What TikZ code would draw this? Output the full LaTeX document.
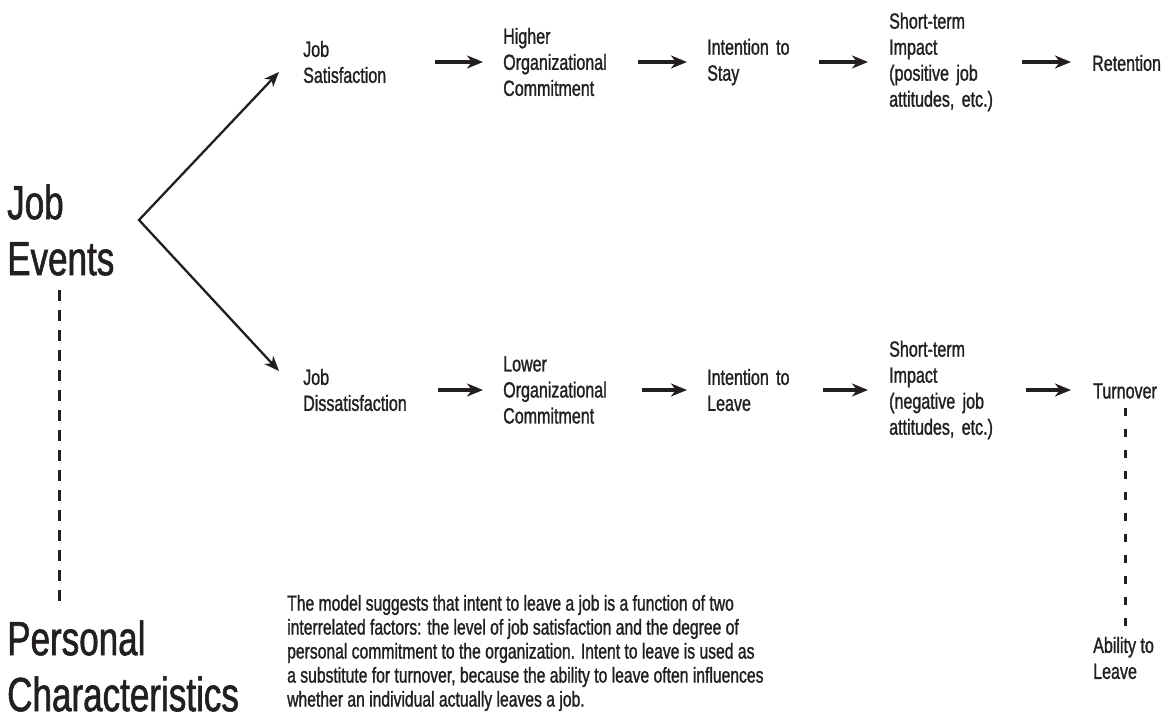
\documentclass[tikz,border=0pt]{standalone}
\usepackage{fontspec}
\setmainfont[FakeStretch=0.73,FakeBold=1.2]{Liberation Sans}
\usetikzlibrary{arrows.meta}
\definecolor{ink}{HTML}{231F20}
\begin{document}
\begin{tikzpicture}[x=1pt,y=-1pt,every node/.style={text=ink},
 lbl/.style={anchor=west,align=left,inner sep=0pt,font=\fontsize{22}{26}\selectfont},
 big/.style={anchor=west,align=left,inner sep=0pt,font=\fontsize{48}{56}\selectfont},
 arr/.style={draw=ink,line width=3.3pt,-{Stealth[length=16pt,width=13pt,inset=5pt]}},
 diag/.style={draw=ink,line width=2.3pt,{Stealth[length=15pt,width=12pt,inset=4.5pt]}-{Stealth[length=15pt,width=12pt,inset=4.5pt]}},
 dsh/.style={draw=ink,line width=3pt,dash pattern=on 11pt off 9pt}]
\useasboundingbox (0,0) rectangle (1168,720);
% big labels
\node[big] (je) at (7,230) {Job\\Events};
\node[big] (pc) at (7,666) {Personal\\Characteristics};
% row 1
\node[lbl,text width=132pt] (js) at (303,62) {Job\\Satisfaction};
\node[lbl,text width=135pt] (hoc) at (503,62) {Higher\\Organizational\\Commitment};
\node[lbl,text width=112pt] (its) at (707,62) {Intention to\\Stay};
\node[lbl,text width=133pt] (stp) at (889,62) {Short-term\\Impact\\(positive job\\attitudes, etc.)};
\node[lbl] (ret) at (1092,63) {Retention};
% row 2
\node[lbl,text width=135pt] (jd) at (303,390) {Job\\Dissatisfaction};
\node[lbl,text width=139pt] (loc) at (503,390) {Lower\\Organizational\\Commitment};
\node[lbl,text width=116pt] (itl) at (707,390) {Intention to\\Leave};
\node[lbl,text width=137pt] (stn) at (889,390) {Short-term\\Impact\\(negative job\\attitudes, etc.)};
\node[lbl] (turn) at (1093,391) {Turnover};
\node[lbl] (abl) at (1093,658) {Ability to\\Leave};
% paragraph
\node[anchor=west,align=left,inner sep=0pt,font=\fontsize{21.5}{24}\selectfont] (para) at (287,653)
 {The model suggests that intent to leave a job is a function of two\\
  interrelated factors: the level of job satisfaction and the degree of\\
  personal commitment to the organization. Intent to leave is used as\\
  a substitute for turnover, because the ability to leave often influences\\
  whether an individual actually leaves a job.};
% arrows row 1
\draw[arr,shorten >=20pt] (js.east) -- (js.east -| hoc.west);
\draw[arr,shorten >=20pt] (hoc.east) -- (hoc.east -| its.west);
\draw[arr,shorten >=21pt] (its.east) -- (its.east -| stp.west);
\draw[arr,shorten >=21pt] (stp.east) -- (stp.east -| ret.west);
% arrows row 2
\draw[arr,shorten >=20pt] (jd.east) -- (jd.east -| loc.west);
\draw[arr,shorten >=20pt] (loc.east) -- (loc.east -| itl.west);
\draw[arr,shorten >=21pt] (itl.east) -- (itl.east -| stn.west);
\draw[arr,shorten >=22pt] (stn.east) -- (stn.east -| turn.west);
% branching arrows
\coordinate (v) at (139,220);
\draw[diag,line join=miter] ([xshift=-24pt,yshift=-10pt]js.west) -- (v) -- ([xshift=-24pt,yshift=19pt]jd.west);
% dashed links
\coordinate (d1) at (59,290);
\coordinate (d2) at (59,602);
\draw[dsh] (d1) -- (d2);
\coordinate (t1) at (1125,408);
\draw[dsh,dash pattern=on 8pt off 13pt] (t1) -- (t1 |- abl.north);
\end{tikzpicture}
\end{document}
